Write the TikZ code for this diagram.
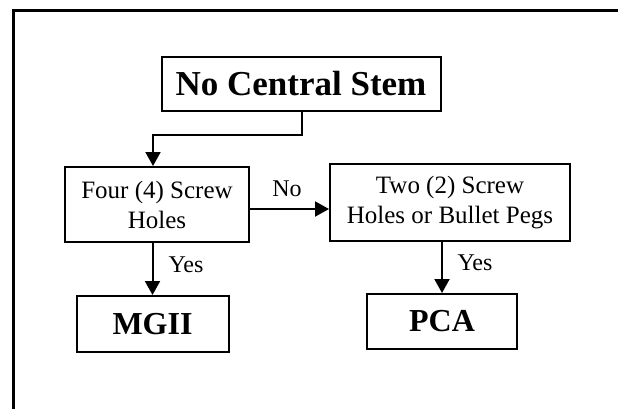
\documentclass[tikz,border=0pt]{standalone}
\usepackage{fontspec}
\setmainfont{Liberation Serif}
\usetikzlibrary{arrows.meta}
\begin{document}
\begin{tikzpicture}[x=1pt,y=-1pt,
  box/.style={draw,line width=2pt,rectangle,inner sep=0pt,align=center},
  arr/.style={line width=2pt,-{Triangle[length=14pt,width=15pt]}},
  lbl/.style={inner sep=0pt,font=\fontsize{24}{29}\selectfont}]
\useasboundingbox (0,0) rectangle (618,408);
\draw[line width=3pt] (13,410) -- (13,10) -- (620,10);
\node[box,minimum width=279pt,minimum height=54pt,font=\fontsize{35}{40}\selectfont\bfseries] (top) at (301,84) {No Central Stem};
\node[box,minimum width=184pt,minimum height=75pt,font=\fontsize{25}{30}\selectfont] (four) at (157,204.5) {Four (4) Screw\\Holes};
\node[box,minimum width=240pt,minimum height=77pt,font=\fontsize{25}{30}\selectfont] (two) at (450,202.5) {Two (2) Screw\\Holes or Bullet Pegs};
\node[box,minimum width=152pt,minimum height=56pt,font=\fontsize{32}{36}\selectfont\bfseries] (mgii) at (152.5,324) {MGII};
\node[box,minimum width=150pt,minimum height=55pt,font=\fontsize{32}{36}\selectfont\bfseries] (pca) at (442,321.5) {PCA};
\draw[arr] ([xshift=1pt]top.south) -- ++(0,23) -| ([xshift=-4pt]four.north);
\draw[arr] (mgii.north |- four.south) -- (mgii.north);
\draw[arr] (pca.north |- two.south) -- (pca.north);
\draw[arr] ([yshift=-4.5pt]four.east) coordinate (p) -- (p -| two.west);
\node[lbl] (no) at (287,189) {No};
\node[lbl] (yes1) at (186,265) {Yes};
\node[lbl] (yes2) at (475,263) {Yes};
\end{tikzpicture}
\end{document}
